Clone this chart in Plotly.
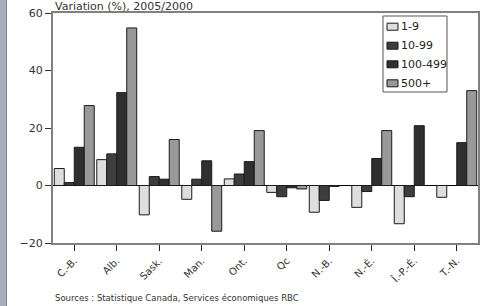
import plotly.graph_objects as go

categories = ["C.-B.", "Alb.", "Sask.", "Man.", "Ont.", "Qc", "N.-B.", "N.-É.", "Î.-P.-É.", "T.-N."]
s_1_9 = [5.9, 9.0, -10.2, -4.8, 2.3, -2.4, -9.3, -7.6, -13.3, -4.1]
s_10_99 = [1.0, 11.0, 3.1, 2.2, 4.0, -3.9, -5.2, -2.1, -3.9, None]
s_100_499 = [13.3, 32.3, 2.2, 8.6, 8.3, -0.8, -0.3, 9.4, 20.8, 14.9]
s_500 = [27.8, 54.8, 16.0, -15.9, 19.1, -1.2, None, 19.1, None, 33.0]
series_names = ["1-9", "10-99", "100-499", "500+"]
y_ticks = [-20, 0, 20, 40, 60]

colors = ["#dedede", "#3d3d3d", "#2f2f2f", "#999999"]
font = "DejaVu Sans"

W, H = 495, 306
ml, mr, mt, mb = 53, 17, 13, 63
pw, ph = W - ml - mr, H - mt - mb


def px_x(x):
    return (x - ml) / pw


def px_y(y):
    return 1 - (y - mt) / ph


fig = go.Figure()
for name, vals, col in zip(series_names, [s_1_9, s_10_99, s_100_499, s_500], colors):
    fig.add_trace(go.Bar(
        x=categories, y=vals, name=name,
        marker=dict(color=col, line=dict(color="#1a1a1a", width=1)),
    ))

shapes = [
    dict(type="rect", xref="paper", yref="paper",
         x0=px_x(0), x1=px_x(6), y0=px_y(H), y1=px_y(0),
         fillcolor="#a9aebf", line=dict(width=0), layer="below"),
    dict(type="line", xref="paper", yref="paper",
         x0=px_x(6.5), x1=px_x(6.5), y0=px_y(H), y1=px_y(0),
         line=dict(color="#7d8294", width=1)),
    # legend box
    dict(type="rect", xref="paper", yref="paper",
         x0=px_x(383), x1=px_x(447), y0=px_y(92), y1=px_y(16),
         fillcolor="white", line=dict(color="#555555", width=1)),
]
annotations = [
    dict(text="Variation (%), 2005/2000", xref="paper", yref="paper",
         x=0, y=1, xanchor="left", yanchor="bottom", yshift=-2, showarrow=False,
         font=dict(size=11, color="#333333")),
    dict(text="Sources : Statistique Canada, Services économiques RBC",
         xref="paper", yref="paper", x=0, y=px_y(298),
         xanchor="left", yanchor="middle", showarrow=False,
         font=dict(size=8.5, color="#333333")),
]
leg_y = [26.7, 45.7, 64.3, 83.3]
for name, col, yc in zip(series_names, colors, leg_y):
    shapes.append(dict(type="rect", xref="paper", yref="paper",
                       x0=px_x(387), x1=px_x(398), y0=px_y(yc + 3.5), y1=px_y(yc - 3.5),
                       fillcolor=col, line=dict(color="#1a1a1a", width=1)))
    annotations.append(dict(text=name, xref="paper", yref="paper",
                            x=px_x(399), y=px_y(yc), xanchor="left", yanchor="middle",
                            showarrow=False, font=dict(size=11, color="#222222")))

fig.update_layout(
    width=W, height=H,
    margin=dict(l=ml, r=mr, t=mt, b=mb, autoexpand=False),
    paper_bgcolor="white", plot_bgcolor="white",
    barmode="group", bargap=0.06, bargroupgap=0,
    font=dict(family=font, size=10, color="#333333"),
    showlegend=False,
    xaxis=dict(
        showline=True, linecolor="#808080", linewidth=2, mirror=True,
        ticks="outside", ticklen=6, tickcolor="#222222", tickwidth=1,
        tickangle=-45, tickfont=dict(size=10, color="#333333"),
        showgrid=False, automargin=False,
    ),
    yaxis=dict(
        range=[-20, 60], tickvals=y_ticks,
        showline=True, linecolor="#808080", linewidth=2, mirror=True,
        ticks="outside", ticklen=6, tickcolor="#333333",
        tickfont=dict(size=11, color="#333333"),
        showgrid=False, zeroline=True, zerolinecolor="#000000", zerolinewidth=1.5,
        automargin=False,
    ),
    shapes=shapes,
    annotations=annotations,
)

fig.write_html(
    "out.html",
    config={"displayModeBar": False, "staticPlot": True},
    post_script="document.body.style.margin='0';document.body.style.overflow='hidden';"
                "document.documentElement.style.overflow='hidden';",
)
